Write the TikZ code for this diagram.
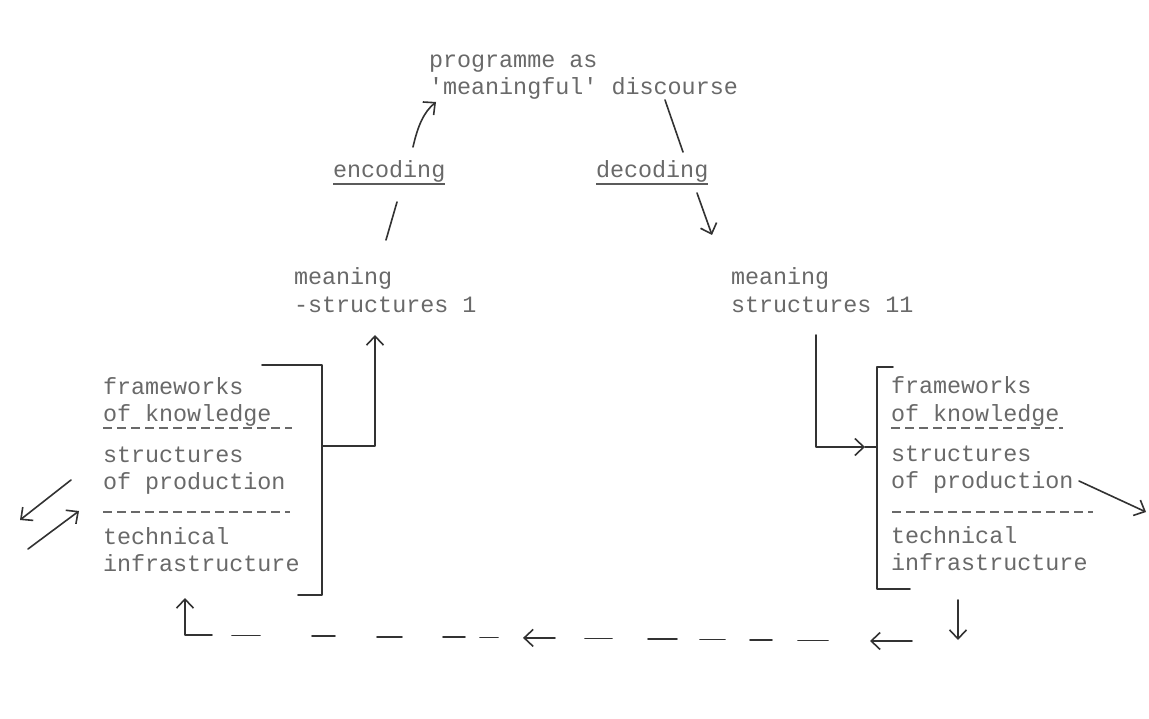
\documentclass[tikz,border=0pt]{standalone}
\usepackage{fontspec}
\newfontfamily\tw{Liberation Mono}
\usetikzlibrary{arrows.meta}
\definecolor{txt}{RGB}{105,105,105}
\definecolor{ink}{RGB}{50,50,50}
\tikzset{
  tt/.style={anchor=base west, inner sep=0pt, outer sep=0pt, text=txt, font=\tw\fontsize{23.4}{27}\selectfont},
  pen/.style={draw=ink, line width=1.6pt, line cap=round, line join=round},
  tip/.style={-{Straight Barb[length=9pt,width=17pt,line width=1.6pt]}},
  rule/.style={draw=ink!80, line width=1.3pt},
  typed/.style={draw=txt, line width=1.6pt, dash pattern=on 9pt off 5pt},
}
\begin{document}
\begin{tikzpicture}[x=1pt,y=-1pt]
\useasboundingbox (0,0) rectangle (1149,719);
\fill[white] (0,0) rectangle (1149,719);

% top text
\node[tt] (prog1) at (429,68) {programme as};
\node[tt] (prog2) at (429,95) {'meaningful' discourse};
\node[tt] (enc) at (333,178) {encoding};
\node[tt] (dec) at (596,178) {decoding};
\draw[rule] (enc.base west) ++(0,6) -- ++(112,0);
\draw[rule] (dec.base west) ++(0,6) -- ++(112,0);

% meaning structures
\node[tt] (ml1) at (294,285) {meaning};
\node[tt] (ml2) at (294,313) {-structures 1};
\node[tt] (mr1) at (731,285) {meaning};
\node[tt] (mr2) at (731,313) {structures 11};

% left block
\node[tt] (lf1) at (103,394) {frameworks};
\node[tt] (lf2) at (103,421) {of knowledge};
\node[tt] (ls1) at (103,462) {structures};
\node[tt] (ls2) at (103,489) {of production};
\node[tt] (lt1) at (103,544) {technical};
\node[tt] (lt2) at (103,571) {infrastructure};
\draw[typed] (103,428) -- (292,428);
\draw[typed] (103,512) -- (290,512);

% right block
\node[tt] (rf1) at (891,393) {frameworks};
\node[tt] (rf2) at (891,421) {of knowledge};
\node[tt] (rs1) at (891,461) {structures};
\node[tt] (rs2) at (891,488) {of production};
\node[tt] (rt1) at (891,543) {technical};
\node[tt] (rt2) at (891,570) {infrastructure};
\draw[typed] (891,428) -- (1063,428);
\draw[typed] (892,512) -- (1093,512);

% coordinates
\coordinate (lbT) at (262,365);
\coordinate (lbTR) at (322,365);
\coordinate (lbBR) at (322,595);
\coordinate (lbB) at (298,595);
\coordinate (lbr) at (322,446);
\coordinate (lbc) at (375,446);
\coordinate (mlIn) at (375,335);

\coordinate (rbT) at (893,367);
\coordinate (rbTL) at (877,367);
\coordinate (rbBL) at (877,589);
\coordinate (rbB) at (910,589);
\coordinate (mrOut) at (816,335);
\coordinate (rc) at (816,447);
\coordinate (rIn) at (865,447);
\coordinate (rbm) at (877,447);

% left bracket and branch
\draw[pen] (lbT) -- (lbTR) -- (lbBR) -- (lbB);
\draw[pen,tip] (lbr) -- (lbc) -- (mlIn);

% right bracket and branch
\draw[pen] (rbT) -- (rbTL) -- (rbBL) -- (rbB);
\draw[pen,tip] (mrOut) -- (rc) -- (rIn);
\draw[pen] (rIn) -- (rbm);

% encoding / decoding strokes
\coordinate (e1) at (386,240);
\coordinate (e2) at (397,202);
\coordinate (e3) at (413,147);
\coordinate (e4) at (436,102);
\draw[pen] (e1) -- (e2);
\draw[pen,tip] (e3) .. controls (418,125) and (424,112) .. (e4);
\coordinate (d1) at (665,100);
\coordinate (d2) at (683,152);
\coordinate (d3) at (697,193);
\coordinate (d4) at (712,235);
\draw[pen] (d1) -- (d2);
\draw[pen,tip] (d3) -- (d4);

% side arrows
\coordinate (la1) at (71,480);
\coordinate (la2) at (20,520);
\coordinate (la3) at (28,549);
\coordinate (la4) at (79,511);
\draw[pen,tip] (la1) -- (la2);
\draw[pen,tip] (la3) -- (la4);
\coordinate (ra1) at (1079,481);
\coordinate (ra2) at (1146,512);
\draw[pen,tip] (ra1) -- (ra2);

% bottom return loop
\coordinate (dn1) at (958,600);
\coordinate (dn2) at (958,640);
\draw[pen,tip] (dn1) -- (dn2);
\coordinate (b1) at (912,641);
\coordinate (b2) at (870,641);
\draw[pen,tip] (b1) -- (b2);
\draw[pen] (798,640.3) -- (828,640.3)
           (750,639.8) -- (772,639.8)
           (700,639.4) -- (725,639.4)
           (648,639) -- (677,639)
           (585,638.4) -- (612,638.4)
           (480,637.4) -- (498,637.4)
           (443,637.2) -- (465,637.2)
           (377,636.7) -- (402,636.7)
           (312,636) -- (335,636)
           (232,635.5) -- (260,635.5);
\coordinate (m1) at (555,637.9);
\coordinate (m2) at (523,637.9);
\draw[pen,tip] (m1) -- (m2);
\coordinate (c1) at (212,635);
\coordinate (c2) at (185,635);
\coordinate (c3) at (185,598);
\draw[pen,tip] (c1) -- (c2) -- (c3);
\end{tikzpicture}
\end{document}
